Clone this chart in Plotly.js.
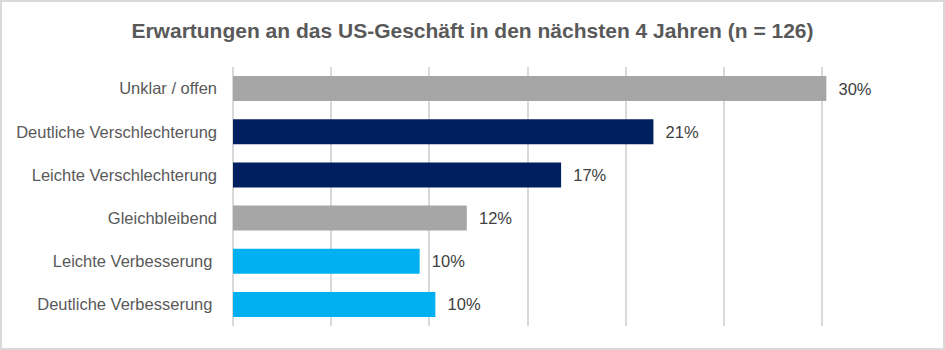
<!DOCTYPE html>
<html>
<head>
<meta charset="utf-8">
<script src="https://cdn.plot.ly/plotly-3.0.1.min.js"></script>
<style>
  html, body { margin: 0; padding: 0; background: #ffffff; }
  #wrap { position: relative; width: 945px; height: 350px; }
  #chart { width: 945px; height: 350px; }
  #frame { position: absolute; left: 0; top: 0; width: 941px; height: 346px;
           border: 2px solid #d9d9d9; pointer-events: none; }
</style>
</head>
<body>
<div id="wrap">
  <div id="chart"></div>
  <div id="frame"></div>
</div>
<script>
// Data (top to bottom as shown)
const categories = [
  "Unklar / offen",
  "Deutliche Verschlechterung",
  "Leichte Verschlechterung",
  "Gleichbleibend",
  "Leichte Verbesserung\u00a0",
  "Deutliche Verbesserung\u00a0"
];
const values = [30.2, 21.4, 16.7, 11.9, 9.5, 10.3];
const valueLabels = ["30%", "21%", "17%", "12%", "10%", "10%"];
const barColors = ["#a6a6a6", "#001f5f", "#001f5f", "#a6a6a6", "#00b0f0", "#00b0f0"];
const titleText = "Erwartungen an das US-Geschäft in den nächsten 4 Jahren (n = 126)";

const trace = {
  type: "bar",
  orientation: "h",
  y: categories,
  x: values,
  text: valueLabels.map(t => "\u00a0\u00a0" + t),
  textposition: "outside",
  cliponaxis: false,
  textfont: { family: "Liberation Sans, Arial, sans-serif", size: 16.5, color: "#404040" },
  marker: { color: barColors },
  hoverinfo: "none"
};

const layout = {
  width: 945,
  height: 350,
  margin: { l: 233, r: 24, t: 67, b: 24 },
  paper_bgcolor: "#ffffff",
  plot_bgcolor: "#ffffff",
  showlegend: false,
  bargap: 0.42,
  title: {
    text: "<b>" + titleText + "</b>",
    font: { family: "Liberation Sans, Arial, sans-serif", size: 21, color: "#595959" },
    x: 0.5, xanchor: "center", xref: "container",
    y: 0.913, yref: "container", yanchor: "middle"
  },
  xaxis: {
    range: [0, 35.02],
    dtick: 5,
    tick0: 0,
    showticklabels: false,
    showgrid: true,
    gridcolor: "#d9d9d9",
    gridwidth: 2,
    zeroline: true,
    zerolinecolor: "#d9d9d9",
    zerolinewidth: 2,
    showline: false,
    fixedrange: true
  },
  yaxis: {
    type: "category",
    categoryorder: "array",
    categoryarray: categories,
    autorange: "reversed",
    showgrid: false,
    zeroline: false,
    showline: false,
    ticks: "",
    ticklabelstandoff: 15,
    tickfont: { family: "Liberation Sans, Arial, sans-serif", size: 16.5, color: "#595959" },
    fixedrange: true
  }
};

Plotly.newPlot("chart", [trace], layout, { displayModeBar: false, staticPlot: true });
</script>
</body>
</html>
